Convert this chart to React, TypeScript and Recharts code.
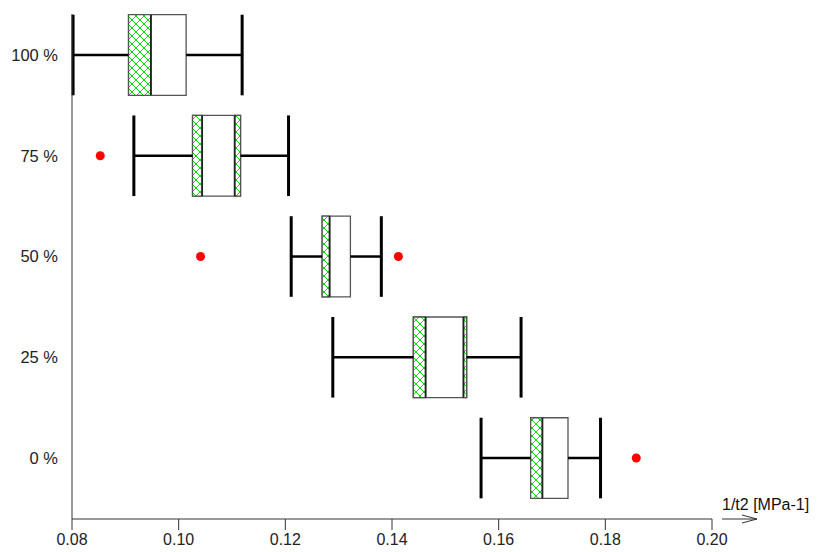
import React from "react";
import {
  ComposedChart,
  XAxis,
  YAxis,
  Scatter,
  ReferenceArea,
  ReferenceLine,
} from "recharts";

// one entry per group, bottom to top
const groups = ["0 %", "25 %", "50 %", "75 %", "100 %"];
const whiskerLow = [0.1567, 0.1289, 0.1211, 0.0916, 0.0802];
const q1 = [0.166, 0.144, 0.1269, 0.1026, 0.0906];
const q3 = [0.173, 0.154, 0.1322, 0.1116, 0.1014];
const whiskerHigh = [0.1791, 0.1642, 0.138, 0.1206, 0.1119];
// hatched bands inside each box: from q1 to lowerBand, and from upperBand to q3
const lowerBand = [0.1682, 0.1463, 0.1283, 0.1044, 0.0948];
const upperBand: (number | null)[] = [null, 0.1534, null, 0.1105, null];

const outlierGroup = [3, 2, 2, 0];
const outlierValue = [0.0853, 0.1041, 0.1412, 0.1858];

const xTicks = [0.08, 0.1, 0.12, 0.14, 0.16, 0.18, 0.2];

const outliers = outlierValue.map((v, i) => ({ x: v, y: outlierGroup[i] }));

const HALF = 0.4;
const FONT = "'Liberation Sans', Arial, sans-serif";

function AxisArrow(props: any) {
  const vb = props.viewBox || {};
  const x0 = vb.x + vb.width + 10;
  const y0 = vb.y;
  return (
    <g>
      <line x1={x0} y1={y0} x2={x0 + 35} y2={y0} stroke="#333" strokeWidth={1} />
      <polyline
        points={`${x0 + 20},${y0 - 4} ${x0 + 35},${y0} ${x0 + 20},${y0 + 4}`}
        fill="none"
        stroke="#333"
        strokeWidth={1}
      />
      <text x={x0} y={y0 - 9} fontSize={16} fill="#111" fontFamily={FONT}>
        1/t2 [MPa-1]
      </text>
    </g>
  );
}

export default function App() {
  return (
    <div style={{ position: "absolute", left: 0, top: 0, background: "#fff" }}>
      <ComposedChart
        width={817}
        height={552}
        margin={{ top: 14, right: 105, bottom: 0, left: 0 }}
        style={{ fontFamily: FONT }}
      >
        <defs>
          <pattern id="hatch" patternUnits="userSpaceOnUse" width={8} height={8}>
            <rect width={8} height={8} fill="#fff" />
            <path d="M0,0 L8,8 M8,0 L0,8" stroke="#00e600" strokeWidth={1} />
            <circle cx={0} cy={0} r={1.1} fill="#00d000" />
            <circle cx={4} cy={4} r={1.1} fill="#00d000" />
          </pattern>
        </defs>
        <XAxis
          type="number"
          dataKey="x"
          domain={[0.08, 0.2]}
          ticks={xTicks}
          tickFormatter={(v: number) => v.toFixed(2)}
          height={33}
          tickSize={11}
          tickMargin={4}
          stroke="#333"
          tick={{ fill: "#222", fontSize: 16 }}
          allowDataOverflow
          label={<AxisArrow />}
        />
        <YAxis
          type="number"
          dataKey="y"
          domain={[-0.605, 4.407]}
          ticks={[0, 1, 2, 3, 4]}
          tickFormatter={(v: number) => groups[v]}
          width={72}
          tickLine={false}
          tickSize={0}
          tickMargin={14}
          stroke="#333"
          tick={{ fill: "#222", fontSize: 16.5 }}
          allowDataOverflow
        />

        {groups.map((g, i) => (
          <ReferenceArea
            key={"box" + g}
            x1={q1[i]}
            x2={q3[i]}
            y1={i - HALF}
            y2={i + HALF}
            fill="#fff"
            fillOpacity={1}
            stroke="#555"
            strokeWidth={1.3}
            ifOverflow="visible"
          />
        ))}
        {groups.map((g, i) => (
          <ReferenceArea
            key={"lo" + g}
            x1={q1[i]}
            x2={lowerBand[i]}
            y1={i - HALF}
            y2={i + HALF}
            fill="url(#hatch)"
            fillOpacity={1}
            stroke="#555"
            strokeWidth={1.3}
            ifOverflow="visible"
          />
        ))}
        {groups.map((g, i) =>
          upperBand[i] == null ? null : (
            <ReferenceArea
              key={"hi" + g}
              x1={upperBand[i] as number}
              x2={q3[i]}
              y1={i - HALF}
              y2={i + HALF}
              fill="url(#hatch)"
              fillOpacity={1}
              stroke="#555"
              strokeWidth={1.3}
              ifOverflow="visible"
            />
          )
        )}
        {groups.map((g, i) => (
          <ReferenceLine
            key={"div" + g}
            segment={[
              { x: lowerBand[i], y: i - HALF },
              { x: lowerBand[i], y: i + HALF },
            ]}
            stroke="#222"
            strokeWidth={1.8}
            ifOverflow="visible"
          />
        ))}
        {groups.map((g, i) =>
          upperBand[i] == null ? null : (
            <ReferenceLine
              key={"div2" + g}
              segment={[
                { x: upperBand[i] as number, y: i - HALF },
                { x: upperBand[i] as number, y: i + HALF },
              ]}
              stroke="#222"
              strokeWidth={1.8}
              ifOverflow="visible"
            />
          )
        )}
        {/* whiskers */}
        {groups.map((g, i) => (
          <ReferenceLine
            key={"wl" + g}
            segment={[
              { x: whiskerLow[i], y: i },
              { x: q1[i], y: i },
            ]}
            stroke="#000"
            strokeWidth={2.5}
            ifOverflow="visible"
          />
        ))}
        {groups.map((g, i) => (
          <ReferenceLine
            key={"wh" + g}
            segment={[
              { x: q3[i], y: i },
              { x: whiskerHigh[i], y: i },
            ]}
            stroke="#000"
            strokeWidth={2.5}
            ifOverflow="visible"
          />
        ))}
        {groups.map((g, i) => (
          <ReferenceLine
            key={"cl" + g}
            segment={[
              { x: whiskerLow[i], y: i - HALF },
              { x: whiskerLow[i], y: i + HALF },
            ]}
            stroke="#000"
            strokeWidth={3}
            ifOverflow="visible"
          />
        ))}
        {groups.map((g, i) => (
          <ReferenceLine
            key={"ch" + g}
            segment={[
              { x: whiskerHigh[i], y: i - HALF },
              { x: whiskerHigh[i], y: i + HALF },
            ]}
            stroke="#000"
            strokeWidth={3}
            ifOverflow="visible"
          />
        ))}

        <Scatter
          data={outliers}
          fill="#ff0000"
          isAnimationActive={false}
          shape={(p: any) => <circle cx={p.cx} cy={p.cy} r={4.5} fill="#ff0000" />}
        />
      </ComposedChart>
    </div>
  );
}
